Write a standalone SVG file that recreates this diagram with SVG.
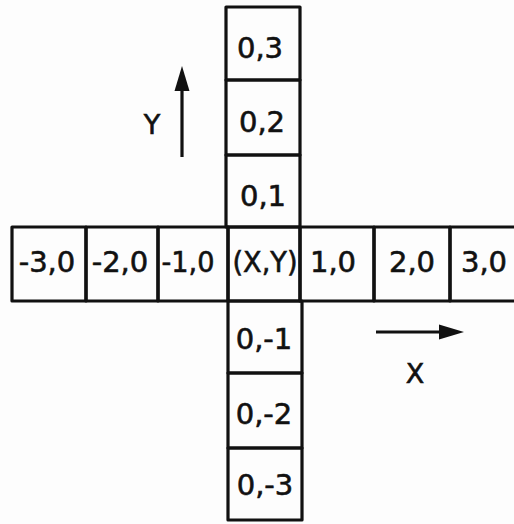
<svg xmlns="http://www.w3.org/2000/svg" width="514" height="524" viewBox="0 0 514 524">
<defs>
<style>
.cell{fill:none;stroke:#111;stroke-width:3.2;stroke-linejoin:round}
.t{font-family:"DejaVu Sans",sans-serif;font-size:29px;fill:#111;stroke:#111;stroke-width:0.6;text-anchor:middle}
.ax{stroke:#111;stroke-width:3.2;fill:none}
.ah{fill:#111}
.lbl{font-family:"DejaVu Sans",sans-serif;font-size:27px;fill:#111;stroke:#111;stroke-width:0.6;text-anchor:middle}
</style>
</defs>
<rect width="514" height="524" fill="#fdfdfd"/>
<g id="cell-0-3"><rect class="cell" x="226" y="7" width="74" height="73"/><text class="t" x="260" y="58">0,3</text></g>
<g id="cell-0-2"><rect class="cell" x="226" y="80" width="74" height="75"/><text class="t" x="262" y="132">0,2</text></g>
<g id="cell-0-1"><rect class="cell" x="226" y="155" width="74" height="72"/><text class="t" x="263" y="206">0,1</text></g>
<g id="cell-m3-0"><rect class="cell" x="12" y="227" width="74" height="74"/><text class="t" x="47" y="272">-3,0</text></g>
<g id="cell-m2-0"><rect class="cell" x="86" y="227" width="72" height="74"/><text class="t" x="120" y="272">-2,0</text></g>
<g id="cell-m1-0"><rect class="cell" x="158" y="227" width="70" height="74"/><text class="t" x="188" y="272" textLength="53" lengthAdjust="spacingAndGlyphs">-1,0</text></g>
<g id="cell-center"><rect class="cell" x="228" y="227" width="72" height="74"/><text class="t" x="265" y="272" textLength="65" lengthAdjust="spacingAndGlyphs">(X,Y)</text></g>
<g id="cell-1-0"><rect class="cell" x="300" y="227" width="74" height="74"/><text class="t" x="333" y="272">1,0</text></g>
<g id="cell-2-0"><rect class="cell" x="374" y="227" width="76" height="74"/><text class="t" x="412" y="272">2,0</text></g>
<g id="cell-3-0"><rect class="cell" x="450" y="227" width="70" height="74"/><text class="t" x="484" y="272">3,0</text></g>
<g id="cell-0-m1"><rect class="cell" x="228" y="301" width="74" height="72"/><text class="t" x="264" y="349">0,-1</text></g>
<g id="cell-0-m2"><rect class="cell" x="228" y="373" width="74" height="75"/><text class="t" x="264" y="424">0,-2</text></g>
<g id="cell-0-m3"><rect class="cell" x="228" y="448" width="74" height="72"/><text class="t" x="265" y="495">0,-3</text></g>
<g id="connectors">
<line class="ax" x1="182" y1="157" x2="182" y2="85"/>
<polygon class="ah" points="182,66 174.5,91 189.5,91"/>
<line class="ax" x1="376" y1="332" x2="445" y2="332"/>
<polygon class="ah" points="464,332 439,324.5 439,339.5"/>
</g>
<g id="labels">
<text class="lbl" x="152" y="134">Y</text>
<text class="lbl" x="415" y="383">X</text>
</g>
</svg>
